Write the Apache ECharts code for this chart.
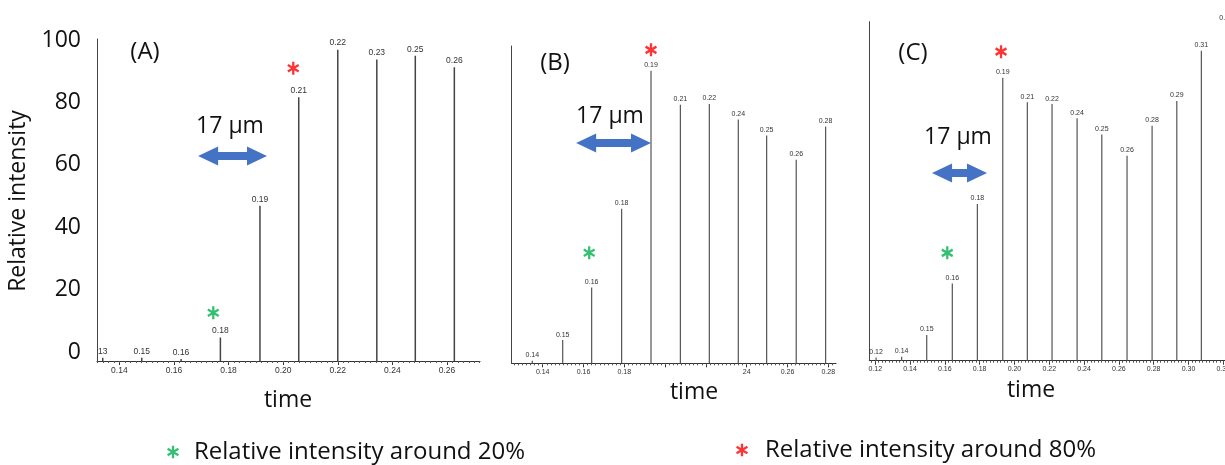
<!DOCTYPE html>
<html>
<head>
<meta charset="utf-8">
<title>Relative intensity vs time</title>
<script src="https://cdn.jsdelivr.net/npm/echarts@6/dist/echarts.min.js"></script>
<style>
  html, body { margin: 0; padding: 0; background: #fff; }
  #chart { width: 1225px; height: 465px; }
</style>
</head>
<body>
<div id="chart"></div>
<script>
// peak positions (time) and heights
var timeA = [0.1339, 0.1482, 0.1626, 0.1770, 0.1915, 0.2057, 0.2200, 0.2343, 0.2484, 0.2627];
var intA = [1.0, 1.0, 0.6, 7.3, 48.2, 81.9, 96.7, 93.6, 94.8, 91.2];
var peakLabelsA = ['13', '0.15', '0.16', '0.18', '0.19', '0.21', '0.22', '0.23', '0.25', '0.26'];

var timeB = [0.1349, 0.1498, 0.1640, 0.1787, 0.1931, 0.2075, 0.2217, 0.2359, 0.2498, 0.2643, 0.2787];
var intB = [0.8, 7.2, 23.5, 48.0, 90.8, 80.3, 80.5, 75.7, 70.7, 63.2, 73.5];
var peakLabelsB = ['0.14', '0.15', '0.16', '0.18', '0.19', '0.21', '0.22', '0.24', '0.25', '0.26', '0.28'];

var timeC = [0.1205, 0.1352, 0.1496, 0.1643, 0.1787, 0.1933, 0.2074, 0.2216, 0.2360, 0.2502, 0.2647, 0.2791, 0.2933, 0.3074, 0.3216];
var intC = [1.0, 1.2, 8.0, 24.0, 48.7, 87.9, 80.3, 79.7, 75.3, 70.3, 63.7, 73.0, 80.7, 96.3, 104.6];
var peakLabelsC = ['0.12', '0.14', '0.15', '0.16', '0.18', '0.19', '0.21', '0.22', '0.24', '0.25', '0.26', '0.28', '0.29', '0.31', '0.32'];

// x tick values and the labels printed under them
var ticksA = [0.14, 0.16, 0.18, 0.20, 0.22, 0.24, 0.26];
var tickLabelsA = ['0.14', '0.16', '0.18', '0.20', '0.22', '0.24', '0.26'];
var ticksB = [0.14, 0.16, 0.18, 0.20, 0.22, 0.24, 0.26, 0.28];
var tickLabelsB = ['0.14', '0.16', '0.18', '', '', '24', '0.26', '0.28'];
var ticksC = [0.12, 0.14, 0.16, 0.18, 0.20, 0.22, 0.24, 0.26, 0.28, 0.30, 0.32];
var tickLabelsC = ['0.12', '0.14', '0.16', '0.18', '0.20', '0.22', '0.24', '0.26', '0.28', '0.30', '0.32'];

// y tick labels on the shared scale at the far left
var yTicks = [0, 20, 40, 60, 80, 100];

// asterisk markers [time, intensity] per panel
var greenStars = [[0.1744, 15.0], [0.1628, 34.3], [0.1614, 33.5]];
var redStars = [[0.2037, 90.9], [0.1931, 97.3], [0.1923, 96.0]];

// "17 µm" double arrows: [from time, to time, intensity] per panel
var arrows = [[0.1725, 0.1904, 63.7], [0.1613, 0.1882, 68.4], [0.1584, 0.1785, 58.3]];

var greenName = 'Relative intensity around 20%';
var redName = 'Relative intensity around 80%';

var FONT = 'Open Sans';
var SMALL = 'Liberation Sans';

// six spoke asterisk, built from three thin bars
function asteriskPath() {
    var L = 12, w = 2.2, parts = [];
    [90, 30, 150].forEach(function (deg) {
        var a = deg * Math.PI / 180;
        var dx = Math.cos(a), dy = Math.sin(a);
        var nx = -dy, ny = dx;
        var pts = [
            [L * dx + w * nx, L * dy + w * ny],
            [-L * dx + w * nx, -L * dy + w * ny],
            [-L * dx - w * nx, -L * dy - w * ny],
            [L * dx - w * nx, L * dy - w * ny]
        ];
        parts.push('M' + pts.map(function (p) {
            return (p[0] + 12).toFixed(2) + ' ' + (p[1] + 12).toFixed(2);
        }).join(' L') + ' Z');
    });
    return 'path://' + parts.join(' ');
}
var STAR = asteriskPath();

function minorTicks(from, to) {
    var out = [];
    for (var i = Math.round(from * 500); i <= Math.round(to * 500); i++) {
        out.push(i / 500);
    }
    return out;
}

function lookup(ticks, labels) {
    return function (v) {
        for (var i = 0; i < ticks.length; i++) {
            if (Math.abs(ticks[i] - v) < 1e-6) return labels[i];
        }
        return '';
    };
}

var panels = [
    { grid: { left: 97, top: 39, width: 383, height: 322 }, xmin: 0.1318, xmax: 0.2721, ymax: 100,
      times: timeA, values: intA, peakLabels: peakLabelsA, ticks: ticksA, tickLabels: tickLabelsA,
      font: 8.5, bar: 1.5, barColor: '#444' },
    { grid: { left: 511.7, top: 46, width: 324.3, height: 317.3 }, xmin: 0.1248, xmax: 0.2838, ymax: 98.5,
      times: timeB, values: intB, peakLabels: peakLabelsB, ticks: ticksB, tickLabels: tickLabelsB,
      font: 7, bar: 1.2, barColor: '#555' },
    { grid: { left: 869.3, top: 21.7, width: 390, height: 339 }, xmin: 0.1166, xmax: 0.3407, ymax: 105.3,
      times: timeC, values: intC, peakLabels: peakLabelsC, ticks: ticksC, tickLabels: tickLabelsC,
      font: 7, bar: 1.2, barColor: '#555' }
];

var grid = [], xAxis = [], yAxis = [], series = [];

panels.forEach(function (p, i) {
    p.grid.outerBoundsMode = 'none';
    p.grid.containLabel = false;
    grid.push(p.grid);
    // main x axis: line, major ticks, labels
    xAxis.push({
        type: 'value', gridIndex: i, position: 'bottom', min: p.xmin, max: p.xmax,
        axisLine: { lineStyle: { color: '#333', width: 1 } },
        axisTick: { customValues: p.ticks, length: 4, lineStyle: { color: '#333' } },
        axisLabel: {
            customValues: p.ticks, formatter: lookup(p.ticks, p.tickLabels),
            fontSize: p.font, fontFamily: SMALL, color: '#333', margin: 5
        },
        splitLine: { show: false }
    });
    // second x axis only for the small minor ticks
    xAxis.push({
        type: 'value', gridIndex: i, position: 'bottom', min: p.xmin, max: p.xmax,
        axisLine: { show: false },
        axisTick: { customValues: minorTicks(0.11, 0.35), length: 2, lineStyle: { color: '#555' } },
        axisLabel: { show: false },
        splitLine: { show: false }
    });
    yAxis.push({
        type: 'value', gridIndex: i, min: 0, max: p.ymax,
        axisLine: { show: true, lineStyle: { color: '#444', width: 1 } },
        axisTick: { show: false }, axisLabel: { show: false }, splitLine: { show: false }
    });

    var a = arrows[i];
    series.push({
        type: 'bar', name: 'panel' + i, xAxisIndex: i * 2, yAxisIndex: i,
        data: p.times.map(function (t, k) { return [t, p.values[k]]; }),
        barWidth: p.bar,
        itemStyle: { color: p.barColor },
        label: {
            show: true, position: 'top', distance: 2,
            fontSize: p.font, fontFamily: SMALL, color: '#333',
            formatter: function (d) { return p.peakLabels[d.dataIndex]; }
        },
        markLine: {
            silent: true, symbol: ['triangle', 'triangle'], symbolSize: [19, 20],
            label: { show: false },
            lineStyle: { color: '#4472C4', width: 8, type: 'solid' },
            itemStyle: { color: '#4472C4' },
            data: [[{ coord: [a[0], a[2]] }, { coord: [a[1], a[2]] }]]
        },
        silent: true
    });
    series.push({
        type: 'scatter', name: greenName, xAxisIndex: i * 2, yAxisIndex: i,
        data: [greenStars[i]], symbol: STAR, symbolSize: [12, 13],
        itemStyle: { color: '#00B050' }, silent: true
    });
    series.push({
        type: 'scatter', name: redName, xAxisIndex: i * 2, yAxisIndex: i,
        data: [redStars[i]], symbol: STAR, symbolSize: [12, 13],
        itemStyle: { color: '#FF0000' }, silent: true
    });
});

// grid that only carries the shared 0-100 labels on the far left
grid.push({ left: 97, top: 40, width: 1, height: 312, outerBoundsMode: 'none' });
xAxis.push({ type: 'value', gridIndex: 3, show: false });
yAxis.push({
    type: 'value', gridIndex: 3, min: 0, max: 100,
    axisLine: { show: false }, axisTick: { show: false }, splitLine: { show: false },
    axisLabel: {
        customValues: yTicks, fontSize: 23, fontFamily: FONT, color: '#111', margin: 16
    }
});

function bigText(str, x, y, size, rot) {
    return {
        type: 'text', x: x, y: y, rotation: rot || 0,
        style: {
            text: str, fontSize: size || 23, fontFamily: FONT, fill: '#111',
            textAlign: 'center', textVerticalAlign: 'middle'
        }
    };
}

var chart = echarts.init(document.getElementById('chart'));
chart.setOption({
    animation: false,
    backgroundColor: '#fff',
    grid: grid,
    xAxis: xAxis,
    yAxis: yAxis,
    series: series,
    legend: [
        {
            data: [{ name: greenName, icon: STAR }], left: 162, top: 435,
            itemWidth: 12, itemHeight: 13, selectedMode: false,
            textStyle: { fontSize: 24, fontFamily: FONT, color: '#111', padding: [0, 0, 0, 10] }
        },
        {
            data: [{ name: redName, icon: STAR }], left: 731, top: 433,
            itemWidth: 12, itemHeight: 13, selectedMode: false,
            textStyle: { fontSize: 24, fontFamily: FONT, color: '#111', padding: [0, 0, 0, 12] }
        }
    ],
    graphic: [
        bigText('Relative intensity', 18, 201, 23, Math.PI / 2),
        bigText('(A)', 145, 52, 24),
        bigText('(B)', 555, 63, 24),
        bigText('(C)', 913, 53, 24),
        bigText('17 µm', 230, 126, 23),
        bigText('17 µm', 610, 116, 23),
        bigText('17 µm', 958, 137, 23),
        bigText('time', 288, 400, 23),
        bigText('time', 694, 392, 23),
        bigText('time', 1031, 390, 23)
    ]
});
</script>
</body>
</html>
